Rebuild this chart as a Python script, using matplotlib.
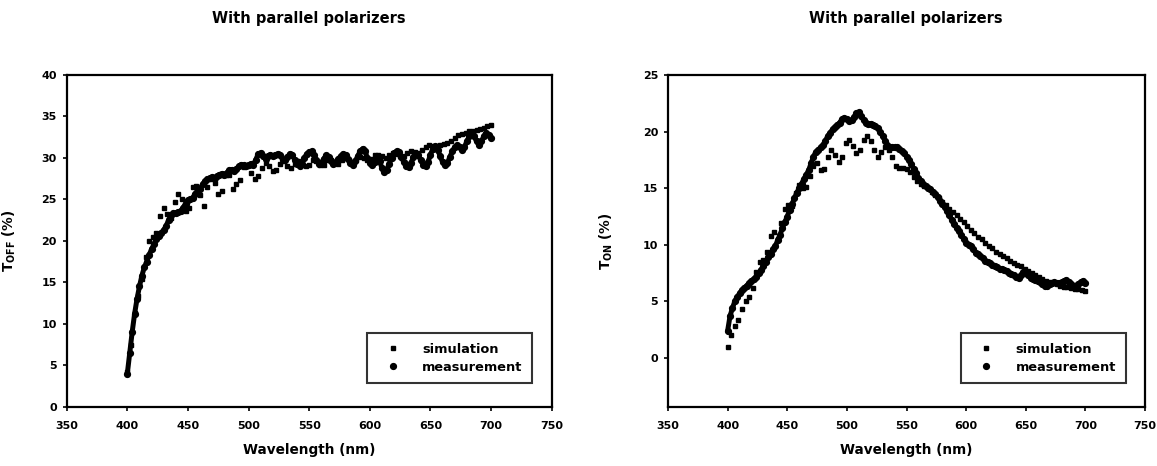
import matplotlib
matplotlib.use("Agg")
import matplotlib.pyplot as plt
import numpy as np

plt.rcParams['font.family'] = ['DejaVu Sans']
plt.rcParams['font.weight'] = 'bold'
plt.rcParams['mathtext.fontset'] = 'dejavusans'

# ---------------- data ----------------
wl_meas = np.arange(400, 701, 2)   # measurement wavelengths (nm)
wl_sim = np.arange(400, 701, 3)    # simulation wavelengths (nm)

toff_meas = [
    4.0, 6.5, 9.0, 11.2, 13.0, 14.5, 15.8, 16.8, 17.5, 18.3,
    19.0, 19.6, 20.2, 20.6, 21.0, 21.3, 21.8, 22.5, 23.1, 23.3,
    23.4, 23.5, 23.6, 24.0, 24.5, 24.9, 25.0, 25.2, 25.7, 26.1,
    26.3, 26.8, 27.2, 27.4, 27.6, 27.7, 27.6, 27.8, 28.0, 28.1,
    28.0, 28.2, 28.5, 28.6, 28.4, 28.7, 29.0, 29.2, 29.1, 29.0,
    29.2, 29.3, 29.2, 29.8, 30.5, 30.6, 30.2, 29.9, 30.2, 30.4,
    30.2, 30.3, 30.5, 30.3, 29.8, 29.7, 30.1, 30.5, 30.3, 29.8,
    29.3, 29.0, 29.3, 30.0, 30.5, 30.7, 30.8, 30.3, 29.7, 29.3,
    29.4, 29.9, 30.3, 30.1, 29.6, 29.3, 29.5, 29.9, 30.2, 30.5,
    30.4, 29.9, 29.4, 29.2, 29.6, 30.2, 30.8, 31.1, 30.8, 30.0,
    29.4, 29.2, 29.5, 30.0, 29.6, 28.8, 28.3, 28.6, 29.3, 30.0,
    30.6, 30.8, 30.7, 30.1, 29.5, 29.0, 28.9, 29.4, 30.1, 30.5,
    30.3, 29.7, 29.2, 29.0, 29.5, 30.4, 31.1, 31.4, 31.0, 30.2,
    29.5, 29.2, 29.4, 30.1, 30.8, 31.3, 31.5, 31.3, 31.0, 31.3,
    32.0, 32.6, 33.0, 32.6, 32.0, 31.6, 32.0, 32.6, 33.0, 32.8,
    32.4,
]

toff_sim = [
    4.2, 7.5, 11.3, 13.3, 15.4, 18.0, 20.0, 20.5, 21.0, 23.0,
    24.0, 23.2, 22.8, 24.7, 25.7, 25.0, 23.6, 24.0, 26.5, 26.6,
    25.5, 24.2, 26.5, 27.5, 27.0, 25.7, 26.0, 27.9, 28.0, 26.3,
    26.9, 27.3, 28.9, 29.0, 28.2, 27.5, 27.8, 28.8, 29.4, 29.0,
    28.4, 28.5, 29.3, 29.6, 29.0, 28.8, 29.3, 29.6, 29.4, 29.0,
    29.2, 29.7, 29.6, 29.1, 29.2, 29.7, 29.8, 29.4, 29.3, 29.7,
    30.0, 29.7, 29.5, 29.8, 30.1, 30.0, 29.7, 29.9, 30.3, 30.4,
    30.2, 30.0, 30.3, 30.6, 30.5, 30.2, 30.2, 30.6, 30.8, 30.7,
    30.6, 30.9, 31.3, 31.5, 31.4, 31.4, 31.6, 31.7, 31.8, 32.1,
    32.4, 32.8, 32.9, 33.0, 33.2, 33.3, 33.4, 33.5, 33.6, 33.9,
    34.0,
]

ton_meas = [
    2.4, 3.7, 4.4, 5.0, 5.4, 5.7, 6.0, 6.2, 6.4, 6.6,
    6.8, 7.0, 7.2, 7.5, 7.8, 8.1, 8.5, 8.9, 9.2, 9.6,
    9.9, 10.4, 10.9, 11.5, 12.0, 12.5, 13.1, 13.6, 14.1, 14.6,
    15.0, 15.4, 15.8, 16.2, 16.6, 17.2, 17.8, 18.2, 18.4, 18.6,
    18.8, 19.2, 19.6, 19.9, 20.2, 20.4, 20.6, 20.8, 21.1, 21.2,
    21.1, 20.9, 21.0, 21.3, 21.6, 21.7, 21.4, 21.0, 20.8, 20.7,
    20.7, 20.6, 20.5, 20.3, 20.0, 19.6, 19.2, 18.8, 18.6, 18.6,
    18.6, 18.6, 18.5, 18.3, 18.1, 17.8, 17.5, 17.1, 16.7, 16.3,
    15.9, 15.6, 15.4, 15.2, 15.0, 14.9, 14.7, 14.5, 14.2, 13.9,
    13.6, 13.3, 13.0, 12.6, 12.2, 11.8, 11.5, 11.2, 10.9, 10.5,
    10.2, 10.0, 9.9, 9.6, 9.3, 9.2, 9.0, 8.8, 8.6, 8.5,
    8.4, 8.2, 8.1, 8.0, 7.9, 7.9, 7.8, 7.7, 7.5, 7.4,
    7.3, 7.2, 7.1, 7.3, 7.6, 7.5, 7.3, 7.1, 7.0, 6.9,
    6.8, 6.7, 6.5, 6.4, 6.4, 6.5, 6.6, 6.7, 6.6, 6.6,
    6.7, 6.8, 6.9, 6.7, 6.5, 6.4, 6.4, 6.5, 6.7, 6.8,
    6.6,
]

ton_sim = [
    1.0, 2.0, 2.8, 3.4, 4.3, 5.0, 5.4, 6.2, 7.6, 8.5,
    8.7, 9.4, 10.8, 11.1, 10.5, 11.9, 13.2, 13.5, 13.4, 14.6,
    15.3, 15.0, 15.1, 16.1, 17.0, 17.2, 16.6, 16.7, 17.8, 18.4,
    17.9, 17.3, 17.8, 19.0, 19.3, 18.7, 18.1, 18.4, 19.3, 19.6,
    19.2, 18.4, 17.8, 18.2, 18.6, 18.4, 17.8, 17.0, 16.8, 16.8,
    16.7, 16.4, 16.0, 15.6, 15.4, 15.2, 15.0, 14.7, 14.4, 14.1,
    13.8, 13.5, 13.2, 12.9, 12.6, 12.3, 12.0, 11.7, 11.3, 11.0,
    10.7, 10.5, 10.2, 9.9, 9.7, 9.4, 9.2, 9.0, 8.8, 8.6,
    8.4, 8.2, 8.1, 7.9, 7.7, 7.5, 7.3, 7.2, 7.0, 6.8,
    6.7, 6.6, 6.5, 6.4, 6.3, 6.3, 6.2, 6.1, 6.1, 6.0,
    5.9,
]

x_ticks = [350, 400, 450, 500, 550, 600, 650, 700, 750]
left_yticks = [0, 5, 10, 15, 20, 25, 30, 35, 40]
right_yticks = [0, 5, 10, 15, 20, 25]

title_text = "With parallel polarizers"
xlabel_text = "Wavelength (nm)"
left_ylabel = r"T$_{\mathbf{OFF}}$ (%)"
right_ylabel = r"T$_{\mathbf{ON}}$ (%)"
legend_labels = ["simulation", "measurement"]

# ---------------- figure ----------------
W, H = 1157, 466
fig = plt.figure(figsize=(W / 100, H / 100), dpi=100)

axL = fig.add_axes([66.7 / W, (H - 406.7) / H, 485 / W, 331.7 / H])
axR = fig.add_axes([668 / W, (H - 406.7) / H, 477 / W, 331.7 / H])


def style(ax, yticks, ylim, ylabel, label_x):
    ax.set_xlim(350, 750)
    ax.set_ylim(*ylim)
    ax.set_xticks(x_ticks)
    ax.set_yticks(yticks)
    ax.tick_params(axis='both', direction='out', length=3, width=1.2,
                   labelsize=8, color='black')
    ax.tick_params(axis='x', pad=7)
    ax.tick_params(axis='y', pad=4)
    for lab in ax.get_xticklabels() + ax.get_yticklabels():
        lab.set_fontweight('bold')
    for sp in ax.spines.values():
        sp.set_linewidth(1.6)
        sp.set_color('black')
    ax.set_xlabel(xlabel_text, fontsize=9.8, fontweight='bold', labelpad=9)
    ax.set_ylabel(ylabel, fontsize=9.8, fontweight='bold')
    ax.yaxis.set_label_coords(label_x, 0.5)


for ax, wm, ym, ws, ys in [(axL, wl_meas, toff_meas, wl_sim, toff_sim),
                            (axR, wl_meas, ton_meas, wl_sim, ton_sim)]:
    # dense measurement points merge into a thick trace
    ax.plot(wm, ym, linestyle='-', linewidth=3.6, color='black',
            solid_capstyle='round', solid_joinstyle='round', zorder=2)
    ax.plot(wm, ym, linestyle='none', marker='o', markersize=4.2,
            color='black', label=legend_labels[1], zorder=2)
    ax.plot(ws, ys, linestyle='none', marker='s', markersize=3.2,
            color='black', label=legend_labels[0], zorder=3)
    handles, labels = ax.get_legend_handles_labels()
    order = [labels.index(legend_labels[0]), labels.index(legend_labels[1])]
    leg = ax.legend([handles[i] for i in order], [labels[i] for i in order],
                    loc='lower right', bbox_to_anchor=(0.96, 0.07),
                    borderaxespad=0, frameon=True, fancybox=False,
                    prop={'weight': 'bold', 'size': 9.3},
                    borderpad=0.75, handlelength=2.4, handletextpad=1.1,
                    labelspacing=0.4, markerscale=1.0)
    leg.get_frame().set_edgecolor('black')
    leg.get_frame().set_linewidth(1.5)

style(axL, left_yticks, (0, 40), left_ylabel, -0.10)
style(axR, right_yticks, (-4.3, 25), right_ylabel, -0.112)

fig.text(309 / W, 1 - 18 / H, title_text, ha='center', va='center',
         fontsize=10.5, fontweight='bold')
fig.text(906 / W, 1 - 18 / H, title_text, ha='center', va='center',
         fontsize=10.5, fontweight='bold')

fig.savefig("out.png", dpi=100, facecolor='white')
